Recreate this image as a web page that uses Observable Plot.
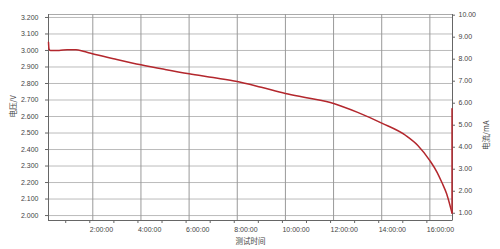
<!DOCTYPE html>
<html>
<head>
<meta charset="utf-8">
<script src="https://cdn.jsdelivr.net/npm/d3@7"></script>
<script src="https://cdn.jsdelivr.net/npm/@observablehq/plot@0.6"></script>
<style>
  html, body { margin: 0; padding: 0; background: #fff; }
  #chart svg { display: block; }
</style>
</head>
<body>
<div id="chart"></div>
<script>
// Discharge: time in hours, voltage in V
const hours = [0.16, 0.18, 0.24, 0.6, 0.94, 1.3, 1.6, 1.98, 2.86, 4.0, 5.0, 6.0, 7.0, 8.0, 9.0, 10.0, 11.0, 12.0, 13.0, 14.0, 15.0, 15.5, 16.0, 16.3, 16.5, 16.7, 16.82, 16.92];
const volts = [3.05, 3.01, 3.0, 3.0, 3.005, 3.004, 2.995, 2.98, 2.95, 2.913, 2.885, 2.859, 2.836, 2.812, 2.777, 2.74, 2.711, 2.679, 2.625, 2.56, 2.485, 2.425, 2.333, 2.262, 2.2, 2.13, 2.07, 2.015];
// Rest after cut-off: voltage recovery at the end time
const restHours = [16.92, 16.92];
const restVolts = [2.015, 2.647];

const xDomain = [0.16, 16.94];
const yDomain = [1.97, 3.218];
const xTicks = [1, 2, 3, 4, 5, 6, 7, 8, 9, 10, 11, 12, 13, 14, 15, 16];
const xGrid = [2, 4, 6, 8, 10, 12, 14, 16];
const xTickLabels = ["2:00:00", "4:00:00", "6:00:00", "8:00:00", "10:00:00", "12:00:00", "14:00:00", "16:00:00"];
const yTicks = [2.0, 2.1, 2.2, 2.3, 2.4, 2.5, 2.6, 2.7, 2.8, 2.9, 3.0, 3.1, 3.2];
const rightTicks = [1, 2, 3, 4, 5, 6, 7, 8, 9, 10];
const yLabel = "电压/V";
const rightLabel = "电流/mA";
const xLabel = "测试时间";

// right (current) axis is linked to the voltage axis: v = a + b * c
const curA = 1.8806, curB = 0.13333;
const curToV = c => curA + curB * c;
const vToCur = v => (v - curA) / curB;

const data = hours.map((t, i) => ({t, v: volts[i]}));
const rest = restHours.map((t, i) => ({t, v: restVolts[i]}));
const cjk = "'Noto Sans CJK SC', sans-serif";
const red = "#b3272d";

const chart = Plot.plot({
  width: 500,
  height: 249,
  marginLeft: 48,
  marginRight: 48,
  marginTop: 14,
  marginBottom: 29,
  style: {fontFamily: "'Liberation Sans', sans-serif", fontSize: "7px", color: "#444", background: "#fff"},
  x: {domain: xDomain, label: null},
  y: {domain: yDomain, label: null},
  marks: [
    Plot.frame({stroke: "#aaa"}),
    Plot.gridY(yTicks, {stroke: "#bbb", strokeOpacity: 1}),
    Plot.gridX(xGrid, {stroke: "#999", strokeOpacity: 1}),
    Plot.ruleX([xDomain[0], xDomain[1]], {stroke: "#666"}),
    Plot.ruleY([yDomain[0]], {stroke: "#666"}),
    Plot.axisY(yTicks, {anchor: "left", tickFormat: d3.format(".3f"), tickSize: 3, tickPadding: 7, stroke: "#666", label: null, fill: "#444"}),
    Plot.axisY(rightTicks.map(curToV), {anchor: "right", tickFormat: v => vToCur(v).toFixed(2), tickSize: 2, tickPadding: 4, stroke: "#666", label: null, fill: "#444"}),
    Plot.axisX(xTicks, {anchor: "bottom", tickFormat: h => { const i = xGrid.indexOf(h); return i >= 0 ? xTickLabels[i] : ""; }, tickSize: 3, tickPadding: 4, textAnchor: "start", dx: -3, stroke: "#666", label: null, fill: "#444"}),
    Plot.line(data, {x: "t", y: "v", stroke: red, strokeWidth: 1.5, curve: "monotone-x"}),
    Plot.line(rest, {x: "t", y: "v", stroke: red, strokeWidth: 1.5}),
    Plot.text([yLabel], {text: d => d, frameAnchor: "left", dx: -35, rotate: -90, fontFamily: cjk, fontSize: 7.5, fill: "#444"}),
    Plot.text([rightLabel], {text: d => d, frameAnchor: "right", dx: 34, dy: 3, rotate: -90, fontFamily: cjk, fontSize: 7.5, fill: "#444"}),
    Plot.text([xLabel], {text: d => d, frameAnchor: "bottom", dy: 23, fontFamily: cjk, fontSize: 7.5, fill: "#444"})
  ]
});
document.getElementById("chart").appendChild(chart);
</script>
</body>
</html>
